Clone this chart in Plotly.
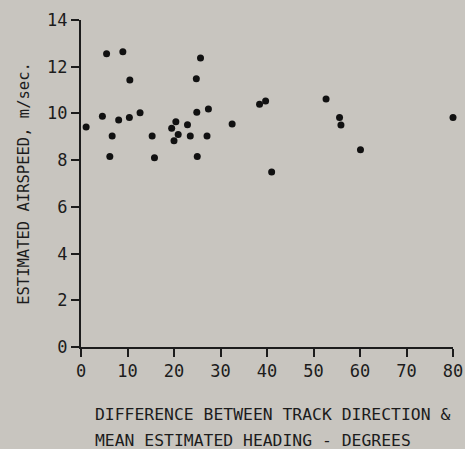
import plotly.graph_objects as go

# heading difference (degrees) and estimated airspeed (m/sec)
heading_diff = [1.1, 4.6, 5.5, 6.2, 6.7, 8.1, 9.0, 10.4, 10.5, 12.7,
                15.3, 15.8, 19.5, 20.4, 20.0, 20.9, 22.9, 23.5, 24.8, 24.9,
                25.0, 25.7, 27.1, 27.4, 32.5, 38.4, 39.7, 41.0, 52.7, 55.6,
                55.9, 60.1, 80.0]
airspeed = [9.42, 9.88, 12.56, 8.16, 9.03, 9.72, 12.64, 9.83, 11.43, 10.03,
            9.03, 8.10, 9.37, 9.64, 8.83, 9.10, 9.52, 9.03, 11.49, 10.05,
            8.16, 12.37, 9.03, 10.19, 9.55, 10.39, 10.53, 7.49, 10.62, 9.83,
            9.50, 8.45, 9.83]

x_ticks = [0, 10, 20, 30, 40, 50, 60, 70, 80]
y_ticks = [0, 2, 4, 6, 8, 10, 12, 14]

FONT = "DejaVu Sans Mono"
INK = "#1c1c1c"
BG = '#c8c5bf'

fig = go.Figure()

fig.add_trace(go.Scatter(
    x=heading_diff,
    y=airspeed,
    mode='markers',
    marker=dict(color='#111111', size=7),
    cliponaxis=False,
    showlegend=False
))

fig.update_layout(
    width=465,
    height=449,
    margin=dict(l=81, r=12, t=20, b=102),
    paper_bgcolor=BG,
    plot_bgcolor=BG,
    font=dict(family=FONT, color=INK, size=17),
    xaxis=dict(
        range=[0, 80],
        tickvals=x_ticks,
        automargin=False,
        showgrid=False,
        zeroline=False,
        showline=True,
        linecolor=INK,
        linewidth=2,
        ticks='outside',
        ticklen=8,
        tickwidth=2,
        tickcolor=INK,
        tickfont=dict(size=17),
    ),
    yaxis=dict(
        range=[0, 14],
        tickvals=y_ticks,
        automargin=False,
        showgrid=False,
        zeroline=False,
        showline=True,
        linecolor=INK,
        linewidth=2,
        ticks='outside',
        ticklen=8,
        tickwidth=2,
        tickcolor=INK,
        tickfont=dict(size=17),
        title=dict(text='ESTIMATED AIRSPEED, m/sec.', font=dict(size=15.5), standoff=14),
    ),
    annotations=[
        dict(
            text='DIFFERENCE BETWEEN TRACK DIRECTION &',
            xref='paper', yref='paper',
            x=(93 - 81) / 372, y=-(414 - 347) / 327,
            xanchor='left', yanchor='middle',
            showarrow=False,
            font=dict(size=16.4),
        ),
        dict(
            text='MEAN ESTIMATED HEADING - DEGREES',
            xref='paper', yref='paper',
            x=(93 - 81) / 372, y=-(440 - 347) / 327,
            xanchor='left', yanchor='middle',
            showarrow=False,
            font=dict(size=16.4),
        ),
    ],
)

# drop the page's default body margin so the grey paper fills the window
fig.write_html("out.html", config={'displayModeBar': False},
               post_script="document.body.style.margin = '0';")
